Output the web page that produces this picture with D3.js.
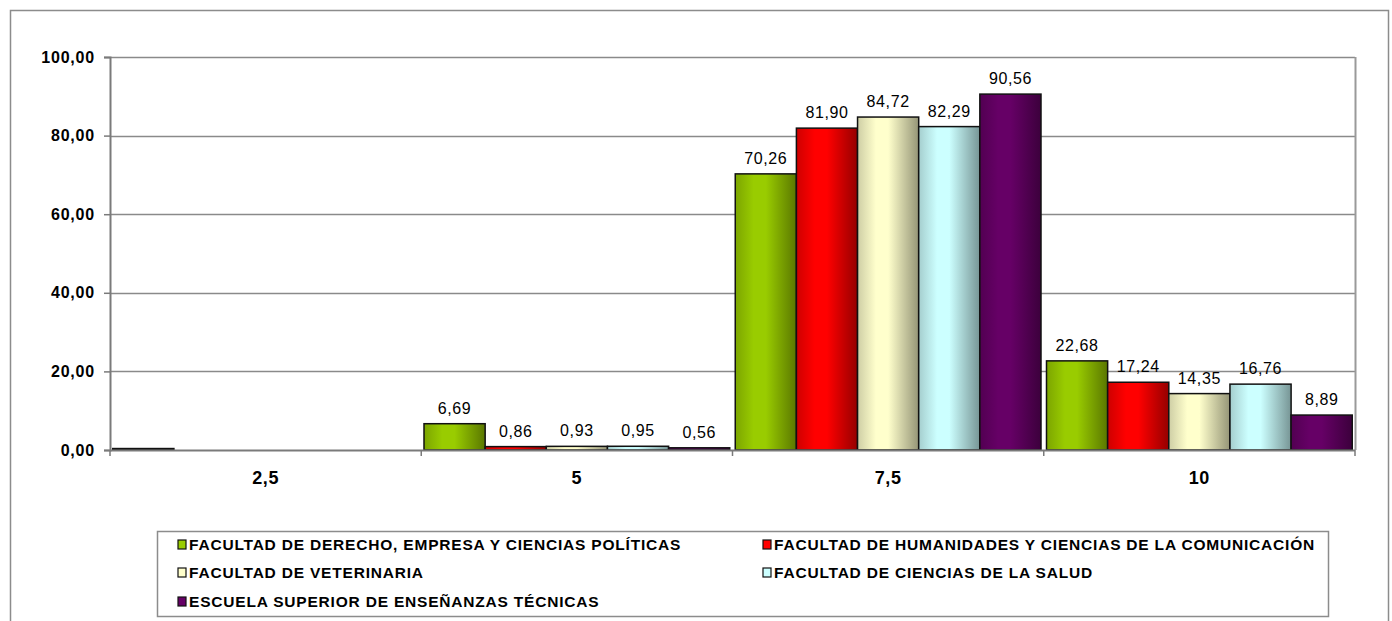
<!DOCTYPE html>
<html><head><meta charset="utf-8">
<script src="https://cdn.jsdelivr.net/npm/d3@7"></script>
<style>body{margin:0;background:#fff}svg{display:block;font-family:"Liberation Sans",Arial,sans-serif}</style>
</head><body>
<svg id="c" width="1392" height="621"></svg>
<script>
const categories = ["2,5", "5", "7,5", "10"];
const seriesNames = [
  "FACULTAD DE DERECHO, EMPRESA Y CIENCIAS POLÍTICAS",
  "FACULTAD DE HUMANIDADES Y CIENCIAS DE LA COMUNICACIÓN",
  "FACULTAD DE VETERINARIA",
  "FACULTAD DE CIENCIAS DE LA SALUD",
  "ESCUELA SUPERIOR DE ENSEÑANZAS TÉCNICAS"
];
const derecho     = [0.37, 6.69, 70.26, 22.68];
const humanidades = [null, 0.86, 81.90, 17.24];
const veterinaria = [null, 0.93, 84.72, 14.35];
const salud       = [null, 0.95, 82.29, 16.76];
const escuela     = [null, 0.56, 90.56, 8.89];
const seriesValues = [derecho, humanidades, veterinaria, salud, escuela];
const colors = ["#99CC00", "#FF0000", "#FFFFCC", "#CCFFFF", "#660066"];
const yTicks = [0, 20, 40, 60, 80, 100];

const svg = d3.select("#c");
const fmt = v => v.toFixed(2).replace(".", ",");

// outer frame
svg.append("rect").attr("x",10.5).attr("y",10.5).attr("width",1378).attr("height",620)
  .attr("fill","none").attr("stroke","#8c8c8c").attr("stroke-width",1.5);

const L = 110, R = 1355, T = 57, B = 450;
const x0 = d3.scaleBand().domain(categories).range([L, R]).padding(0);
const x1 = d3.scaleBand().domain(d3.range(seriesNames.length)).range([0, x0.bandwidth()]).paddingInner(0).paddingOuter(0.045);
const y = d3.scaleLinear().domain([0, 100]).range([B, T]);

// gradients
const defs = svg.append("defs");
colors.forEach((c, i) => {
  const g = defs.append("linearGradient").attr("id", "g" + i).attr("x1", "0").attr("x2", "1").attr("y1", "0").attr("y2", "0");
  const base = d3.rgb(c);
  g.append("stop").attr("offset", "0%").attr("stop-color", base.darker(0.6));
  g.append("stop").attr("offset", "30%").attr("stop-color", base);
  g.append("stop").attr("offset", "50%").attr("stop-color", base);
  g.append("stop").attr("offset", "100%").attr("stop-color", base.darker(1.5));
});

// gridlines
svg.append("g").selectAll("line").data(yTicks.filter(t => t > 0)).join("line")
  .attr("x1", L).attr("x2", R).attr("y1", d => Math.round(y(d)) + 0.5).attr("y2", d => Math.round(y(d)) + 0.5)
  .attr("stroke", "#8a8a8a").attr("stroke-width", 1.5);
// right border of plot
svg.append("line").attr("x1", R + 0.5).attr("x2", R + 0.5).attr("y1", T).attr("y2", B)
  .attr("stroke", "#9a9a9a").attr("stroke-width", 2);

// y axis
const yAxis = svg.append("g").attr("transform", `translate(${L},0)`)
  .call(d3.axisLeft(y).tickValues(yTicks).tickFormat(fmt).tickSize(6).tickPadding(9));
yAxis.select(".domain").attr("stroke", "#7a7a7a").attr("stroke-width", 2);
yAxis.selectAll(".tick line").attr("stroke", "#7a7a7a").attr("stroke-width", 1.5);
yAxis.selectAll(".tick text").attr("font-size", 16).attr("font-weight", "bold").attr("fill", "#000")
  .attr("letter-spacing", 0.8).attr("font-family", "Liberation Sans, Arial, sans-serif");

// bars
const bars = [];
categories.forEach((c, ci) => {
  seriesValues.forEach((arr, si) => {
    if (arr[ci] != null) bars.push({ c, si, v: arr[ci] });
  });
});
svg.append("g").selectAll("rect").data(bars).join("rect")
  .attr("x", d => x0(d.c) + x1(d.si))
  .attr("width", x1.bandwidth())
  .attr("y", d => y(d.v))
  .attr("height", d => Math.max(0.5, B - y(d.v)))
  .attr("fill", d => `url(#g${d.si})`)
  .attr("stroke", "#111").attr("stroke-width", 1.5);

// x axis
const xAxisLine = svg.append("g");
xAxisLine.append("line").attr("x1", L).attr("x2", R).attr("y1", B + 0.5).attr("y2", B + 0.5)
  .attr("stroke", "#7a7a7a").attr("stroke-width", 2);
const boundaries = categories.map(c => x0(c)).concat([R]);
xAxisLine.selectAll(".tk").data(boundaries).join("line").attr("class", "tk")
  .attr("x1", d => d).attr("x2", d => d).attr("y1", B).attr("y2", B + 6)
  .attr("stroke", "#7a7a7a").attr("stroke-width", 1.5);
svg.append("g").selectAll("text").data(categories).join("text")
  .attr("x", d => x0(d) + x0.bandwidth() / 2).attr("y", B + 34)
  .attr("text-anchor", "middle").attr("font-size", 18).attr("letter-spacing", 0.6)
  .attr("font-weight", "bold").text(d => d);

// data labels
svg.append("g").selectAll("text").data(bars.filter(d => d.v >= 0.5)).join("text")
  .attr("x", d => x0(d.c) + x1(d.si) + x1.bandwidth() / 2)
  .attr("y", d => y(d.v) - 10)
  .attr("text-anchor", "middle").attr("font-size", 16).attr("letter-spacing", 0.6)
  .attr("fill", "#000").text(d => fmt(d.v));

// legend
const lg = svg.append("g");
lg.append("rect").attr("x", 157.5).attr("y", 531.5).attr("width", 1171).attr("height", 85)
  .attr("fill", "#fff").attr("stroke", "#8c8c8c").attr("stroke-width", 1.5);
const legPos = [[178, 544], [763, 544], [178, 572], [763, 572], [178, 601]];
seriesNames.forEach((n, i) => {
  const [lx, ly] = legPos[i];
  lg.append("rect").attr("x", lx).attr("y", ly - 4).attr("width", 8).attr("height", 9)
    .attr("fill", colors[i]).attr("stroke", "#111").attr("stroke-width", 1.2);
  lg.append("text").attr("x", lx + 11).attr("y", ly + 6).attr("font-size", 15.5)
    .attr("letter-spacing", 0.8).attr("font-weight", "bold").text(n);
});
</script>
</body></html>
